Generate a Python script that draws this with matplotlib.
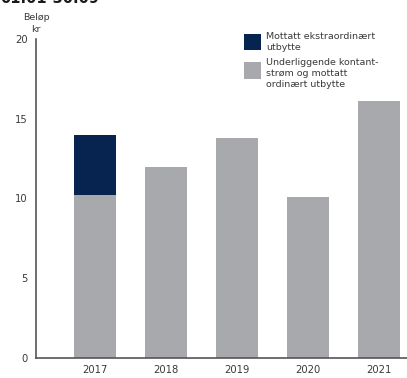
import matplotlib
matplotlib.use("Agg")
import matplotlib.pyplot as plt
from matplotlib.patches import Rectangle

years = ["2017", "2018", "2019", "2020", "2021"]
ordinary = [10.2, 12.0, 13.8, 10.1, 16.1]
extraordinary = [3.8, 0.0, 0.0, 0.0, 0.0]
yticks = [0, 5, 10, 15, 20]

navy = "#06244f"
grey = "#a8a9ac"
text_c = "#3a3a3a"

plt.rcParams["font.family"] = ["DejaVu Sans"]

fig = plt.figure(figsize=(4.07, 3.78), dpi=100)
ax = fig.add_axes([36 / 407, 1 - 358 / 378, 1 - 36 / 407, (358 - 39) / 378])

x = list(range(len(years)))
ax.bar(x, ordinary, width=0.59, color=grey, linewidth=0)
ax.bar(x, extraordinary, width=0.59, bottom=ordinary, color=navy, linewidth=0)

ax.set_xlim(-0.83, 4.39)
ax.set_ylim(0, 20)
ax.set_yticks(yticks)
ax.set_yticklabels([str(t) for t in yticks], fontsize=7.2, color=text_c)
ax.set_xticks(x)
ax.set_xticklabels(years, fontsize=7.2, color=text_c)
ax.tick_params(axis="both", length=0)
ax.tick_params(axis="y", pad=6)
ax.tick_params(axis="x", pad=5)
for s in ["top", "right"]:
    ax.spines[s].set_visible(False)
for s in ["left", "bottom"]:
    ax.spines[s].set_color("#555555")
    ax.spines[s].set_linewidth(1.2)

# heading and unit label
fig.text(0.0, 1 - 6 / 378, "01.01-30.09", fontsize=10.5, fontweight="bold",
         color="#1a1a1a", ha="left", va="bottom")
fig.text(36 / 407, 1 - 17 / 378, "Beløp", fontsize=6.8, color=text_c, ha="center", va="center")
fig.text(36 / 407, 1 - 29 / 378, "kr", fontsize=6.8, color=text_c, ha="center", va="center")

# legend
fig.patches.append(Rectangle((244 / 407, 1 - 50 / 378), 17 / 407, 16 / 378,
                             transform=fig.transFigure, color=navy, linewidth=0))
fig.patches.append(Rectangle((244 / 407, 1 - 79 / 378), 17 / 407, 17 / 378,
                             transform=fig.transFigure, color=grey, linewidth=0))
fig.text(266 / 407, 1 - 32 / 378, "Mottatt ekstraordinært\nutbytte", fontsize=6.8,
         color=text_c, ha="left", va="top", linespacing=1.3)
fig.text(266 / 407, 1 - 58 / 378, "Underliggende kontant-\nstrøm og mottatt\nordinært utbytte",
         fontsize=6.8, color=text_c, ha="left", va="top", linespacing=1.3)

fig.savefig("out.png", dpi=100)
